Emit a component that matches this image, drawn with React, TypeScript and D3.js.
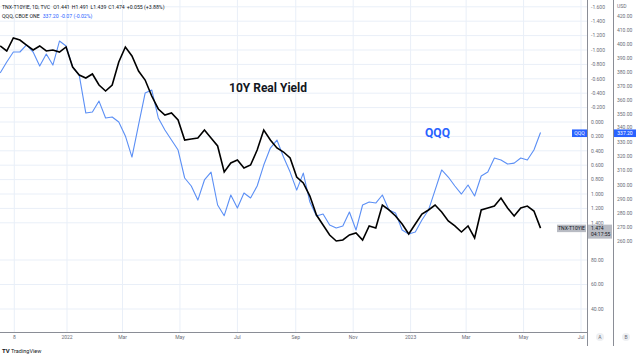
import React from "react";
import * as d3 from "d3";

// Weekly (Friday) sample dates
const weekDates = [
  "2021-10-22","2021-10-29","2021-11-05","2021-11-12","2021-11-19","2021-11-26","2021-12-03","2021-12-10","2021-12-17","2021-12-24","2021-12-31",
  "2022-01-07","2022-01-14","2022-01-21","2022-01-28","2022-02-04","2022-02-11","2022-02-18","2022-02-25","2022-03-04","2022-03-11","2022-03-18","2022-03-25",
  "2022-04-01","2022-04-08","2022-04-15","2022-04-22","2022-04-29","2022-05-06","2022-05-13","2022-05-20","2022-05-27","2022-06-03","2022-06-10","2022-06-17","2022-06-24",
  "2022-07-01","2022-07-08","2022-07-15","2022-07-22","2022-07-29","2022-08-05","2022-08-12","2022-08-19","2022-08-26","2022-09-02","2022-09-09","2022-09-16","2022-09-23","2022-09-30",
  "2022-10-07","2022-10-14","2022-10-21","2022-10-28","2022-11-04","2022-11-11","2022-11-18","2022-11-25","2022-12-02","2022-12-09","2022-12-16","2022-12-23","2022-12-30",
  "2023-01-06","2023-01-13","2023-01-20","2023-01-27","2023-02-03","2023-02-10","2023-02-17","2023-02-24","2023-03-03","2023-03-10","2023-03-17","2023-03-24","2023-03-31",
  "2023-04-07","2023-04-14","2023-04-21","2023-04-28","2023-05-05","2023-05-12","2023-05-19",
];

// TNX - T10YIE (10Y real yield), left price scale "A"
const realYield = [
  -1.056,-0.986,-1.167,-1.139,-1.069,-1.0,-1.056,-0.986,-1.0,-0.972,-1.042,
  -0.764,-0.653,-0.611,-0.667,-0.514,-0.431,-0.514,-0.833,-1.042,-0.917,-0.708,-0.583,
  -0.361,-0.181,-0.097,-0.125,-0.028,0.25,0.236,0.222,0.111,0.222,0.333,0.694,0.569,
  0.528,0.639,0.597,0.389,0.111,0.25,0.361,0.417,0.5,0.764,0.847,1.028,1.292,1.431,
  1.569,1.653,1.639,1.569,1.542,1.639,1.444,1.472,1.153,1.222,1.306,1.417,1.556,
  1.417,1.278,1.222,1.153,1.25,1.375,1.444,1.528,1.444,1.611,1.222,1.194,1.167,
  1.056,1.194,1.306,1.194,1.167,1.236,1.474,
];

// QQQ close, price scale "B" (USD)
const qqqClose = [
  379.5,387.3,394.4,394.4,399.4,394.4,384.4,393.0,385.1,402.2,398.7,
  383.7,378.0,351.0,351.7,359.5,347.5,348.2,344.6,334.7,319.7,342.5,365.2,
  367.4,347.5,338.9,331.8,324.7,304.8,299.1,289.1,303.4,309.0,285.6,278.0,292.7,
  283.4,294.1,290.6,299.1,314.0,326.1,331.8,319.7,309.0,296.2,308.3,287.7,277.8,279.2,
  271.4,269.2,270.6,280.6,267.8,285.6,287.7,287.0,292.7,282.0,279.9,267.8,265.0,
  266.4,274.9,282.0,296.2,310.5,305.5,299.1,293.4,299.8,292.0,306.2,309.0,319.0,
  317.6,314.7,315.4,319.0,317.6,324.7,337.2,
];

const axisATicks = [-1.6,-1.4,-1.2,-1.0,-0.8,-0.6,-0.4,-0.2,0,0.2,0.4,0.6,0.8,1.0,1.2,1.4];
const axisAExtraTicks = [80, 60, 40];
const axisBTicks = [420,410,400,390,380,370,360,350,340,330,320,310,300,290,280,270,260];
const timeTickDates = ["2021-11-06","2022-01-01","2022-03-01","2022-05-01","2022-07-01","2022-09-01","2022-11-01","2023-01-01","2023-03-01","2023-05-01","2023-07-01"];
const timeTickLabels = ["8","2022","Mar","May","Jul","Sep","Nov","2023","Mar","May","Jul"];

const FONT = "Roboto, 'Liberation Sans', Arial, sans-serif";

export default function App() {
  const W = 640, H = 358;
  const plotR = 587, plotB = 332, axisBx = 613;
  const parse = d3.timeParse("%Y-%m-%d");
  const dates = weekDates.map((d) => parse(d) as Date);

  const x = d3.scaleTime().domain([parse("2022-01-01") as Date, parse("2023-07-01") as Date]).range([67, 581]);
  const yA = d3.scaleLinear().domain([-1.6, 1.4]).range([6.8, 222.8]);
  const yAx = d3.scaleLinear().domain([80, 40]).range([260, 309]);
  const yB = d3.scaleLinear().domain([420, 260]).range([16, 241]);

  const lineA = d3.line<number>().x((_, i) => x(dates[i])).y((v) => yA(v));
  const lineB = d3.line<number>().x((_, i) => x(dates[i])).y((v) => yB(v));

  const fmtA = (v: number) => (v < 0 ? "-" : "") + Math.abs(v).toFixed(3);
  const fmtB = d3.format(".2f");

  const gridColor = "#e9eff8";
  const axisText = "#6a6d78";
  const blue = "#2962ff";

  const lastA = realYield[realYield.length - 1];
  const lastB = qqqClose[qqqClose.length - 1];
  const boxBy = yB(lastB) + 0.8;

  return (
    <div style={{ position: "absolute", left: 0, top: 0, width: W, height: H, background: "#fff" }}>
      <svg width={W} height={H} style={{ display: "block", fontFamily: FONT }}>
        <rect x={0} y={0} width={W} height={H} fill="#fff" />
        <defs>
          <clipPath id="plot">
            <rect x={0} y={0} width={plotR} height={plotB} />
          </clipPath>
        </defs>

        {/* grid */}
        {axisATicks.map((t) => (
          <line key={"ga" + t} x1={0} x2={plotR} y1={yA(t)} y2={yA(t)} stroke={gridColor} strokeWidth={1} />
        ))}
        {axisAExtraTicks.map((t) => (
          <line key={"gc" + t} x1={0} x2={plotR} y1={yAx(t)} y2={yAx(t)} stroke={gridColor} strokeWidth={1} />
        ))}
        {timeTickDates.map((d) => (
          <line key={"gv" + d} x1={x(parse(d) as Date)} x2={x(parse(d) as Date)} y1={0} y2={plotB} stroke={gridColor} strokeWidth={1} />
        ))}

        {/* series */}
        <g clipPath="url(#plot)">
          <path d={lineB(qqqClose) || ""} fill="none" stroke="#5b8ff5" strokeWidth={1.1} strokeLinejoin="round" />
          <path d={lineA(realYield) || ""} fill="none" stroke="#000" strokeWidth={1.6} strokeLinejoin="miter" />
        </g>

        {/* annotations */}
        <text x={229} y={92} fontSize={12.5} fontWeight={700} fill="#131722" textLength={78} lengthAdjust="spacingAndGlyphs">10Y Real Yield</text>
        <text x={425} y={137} fontSize={13} fontWeight={700} fill={blue} textLength={25} lengthAdjust="spacingAndGlyphs">QQQ</text>

        {/* legend */}
        <text x={2} y={8.6} fontSize={5.2} fill="#131722">
          <tspan>TNX-T10YIE, 1D, TVC</tspan>
          <tspan dx={3}>O</tspan><tspan>1.441</tspan>
          <tspan dx={2}>H</tspan><tspan>1.491</tspan>
          <tspan dx={2}>L</tspan><tspan>1.439</tspan>
          <tspan dx={2}>C</tspan><tspan>1.474</tspan>
          <tspan dx={2}>+0.055 (+3.88%)</tspan>
        </text>
        <text x={2} y={17.6} fontSize={5.2} fill="#131722">
          <tspan>QQQ, CBOE ONE</tspan>
          <tspan dx={3} fill={blue}>337.20</tspan>
          <tspan dx={2} fill={blue}>-0.07 (-0.02%)</tspan>
        </text>

        {/* price axis borders */}
        <line x1={plotR + 0.5} x2={plotR + 0.5} y1={0} y2={346} stroke="#8a8d96" strokeWidth={1} />
        <line x1={axisBx + 0.5} x2={axisBx + 0.5} y1={0} y2={346} stroke="#8a8d96" strokeWidth={1} />
        <line x1={0} x2={plotR} y1={plotB + 0.5} y2={plotB + 0.5} stroke="#8a8d96" strokeWidth={1} />

        {/* axis A labels */}
        {axisATicks.map((t) => (
          <text key={"la" + t} x={591} y={yA(t) + 1.8} fontSize={5} fill={axisText}>{fmtA(t)}</text>
        ))}
        {axisAExtraTicks.map((t) => (
          <text key={"lc" + t} x={591} y={yAx(t) + 1.8} fontSize={5} fill={axisText}>{fmtB(t)}</text>
        ))}
        {/* axis B labels */}
        <text x={617} y={8} fontSize={5} fill={axisText}>USD</text>
        {axisBTicks.map((t) => (
          <text key={"lb" + t} x={617} y={yB(t) + 1.8 - (t === 340 ? 1.2 : 0)} fontSize={5} fill={axisText}>{fmtB(t)}</text>
        ))}

        {/* time axis labels */}
        {timeTickDates.map((d, i) => (
          <text key={"lt" + d} x={x(parse(d) as Date)} y={339} fontSize={5} fill={axisText} textAnchor="middle">{timeTickLabels[i]}</text>
        ))}

        {/* last value markers */}
        <rect x={572} y={boxBy - 3.8} width={15} height={7.6} fill={blue} />
        <text x={579.5} y={boxBy + 1.8} fontSize={5} fill="#fff" textAnchor="middle">QQQ</text>
        <rect x={614} y={boxBy - 3.8} width={22} height={7.6} fill={blue} />
        <text x={625} y={boxBy + 1.8} fontSize={5} fill="#fff" textAnchor="middle">{fmtB(lastB)}</text>

        <rect x={557} y={yA(lastA) - 3.5} width={29} height={7.5} fill="#b8bbc3" />
        <text x={571.5} y={yA(lastA) + 1.8} fontSize={5} fill="#131722" textAnchor="middle">TNX-T10YIE</text>
        <rect x={588} y={yA(lastA) - 3.5} width={24} height={14} fill="#b8bbc3" />
        <text x={591} y={yA(lastA) + 1.8} fontSize={5} fill="#131722">{lastA.toFixed(3)}</text>
        <text x={591} y={yA(lastA) + 8} fontSize={5} fill="#131722">04:17:55</text>

        {/* A / B badges */}
        <circle cx={600} cy={337} r={4} fill="#eef0f3" />
        <text x={600} y={338.8} fontSize={5} fill={axisText} textAnchor="middle">A</text>
        <circle cx={626} cy={337} r={4} fill="#eef0f3" />
        <text x={626} y={338.8} fontSize={5} fill={axisText} textAnchor="middle">B</text>

        {/* TradingView mark */}
        <text x={2} y={353} fontSize={6} fontWeight={700} fill="#131722">TV</text>
        <text x={11} y={353} fontSize={5.5} fill="#131722">TradingView</text>
      </svg>
    </div>
  );
}
